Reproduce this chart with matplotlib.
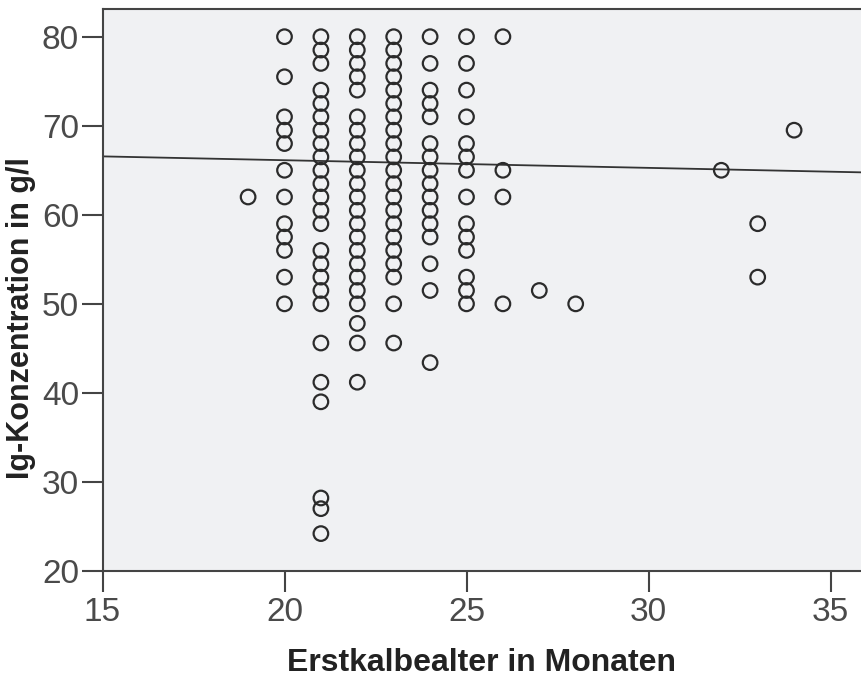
import matplotlib.pyplot as plt
import numpy as np

plt.rcParams['font.family'] = ['Liberation Sans', 'DejaVu Sans']

ig_19 = [62]
ig_20 = [80, 75.5, 71, 69.5, 68, 65, 62, 59, 57.5, 56, 53, 50]
ig_21 = [80, 78.5, 77, 74, 72.5, 71, 69.5, 68, 66.5, 65, 63.5, 62, 60.5, 59,
         56, 54.5, 53, 51.5, 50, 45.6, 41.2, 39, 28.2, 27, 24.2]
ig_22 = [80, 78.5, 77, 75.5, 74, 71, 69.5, 68, 66.5, 65, 63.5, 62, 60.5, 59,
         57.5, 56, 54.5, 53, 51.5, 50, 47.8, 45.6, 41.2]
ig_23 = [80, 78.5, 77, 75.5, 74, 72.5, 71, 69.5, 68, 66.5, 65, 63.5, 62, 60.5,
         59, 57.5, 56, 54.5, 53, 50, 45.6]
ig_24 = [80, 77, 74, 72.5, 71, 68, 66.5, 65, 63.5, 62, 60.5, 59, 57.5, 54.5,
         51.5, 43.4]
ig_25 = [80, 77, 74, 71, 68, 66.5, 65, 62, 59, 57.5, 56, 53, 51.5, 50]
ig_26 = [80, 65, 62, 50]
ig_27 = [51.5]
ig_28 = [50]
ig_32 = [65]
ig_33 = [59, 53]
ig_34 = [69.5]

groups = {19: ig_19, 20: ig_20, 21: ig_21, 22: ig_22, 23: ig_23, 24: ig_24,
          25: ig_25, 26: ig_26, 27: ig_27, 28: ig_28, 32: ig_32, 33: ig_33,
          34: ig_34}

# lineare Anpassung (Gesamtstichprobe)
fit_intercept = 67.85
fit_slope = -0.086

x_ticks = [15, 20, 25, 30, 35]
y_ticks = [20, 30, 40, 50, 60, 70, 80]

x = np.concatenate([[k] * len(v) for k, v in groups.items()])
y = np.concatenate([v for v in groups.values()])

fig = plt.figure(figsize=(8.61, 6.84), dpi=100)
ax = fig.add_axes([102.5 / 861, 1 - 571 / 684, 1 - 102.5 / 861, (571 - 9) / 684])
ax.set_facecolor('#F0F1F3')

ax.scatter(x, y, s=110, facecolors='none', edgecolors='#2b2b2b',
           linewidths=1.6, zorder=3)

xl = np.array([15, 36])
ax.plot(xl, fit_intercept + fit_slope * xl, color='#333333', linewidth=1.3,
        zorder=2)

ax.set_xlim(15, 15 + (861 - 102.5) / 36.4)
ax.set_ylim(20, 80 + 27.7 / 8.905)
ax.set_xticks(x_ticks)
ax.set_yticks(y_ticks)

for side in ['left', 'bottom', 'top']:
    ax.spines[side].set_color('#444444')
    ax.spines[side].set_linewidth(1.5)
ax.spines['right'].set_visible(False)

ax.tick_params(axis='both', length=15, width=1.5, color='#444444',
               labelsize=24, labelcolor='#4a4a4a')
ax.tick_params(axis='x', pad=4)
ax.tick_params(axis='y', pad=2)

ax.set_xlabel('Erstkalbealter in Monaten', fontsize=23, fontweight='bold',
              color='#222222', labelpad=14)
ax.set_ylabel('Ig-Konzentration in g/l', fontsize=22, fontweight='bold',
              color='#222222')
ax.yaxis.set_label_coords(-0.088, 0.45)

fig.savefig('out.png', dpi=100)
